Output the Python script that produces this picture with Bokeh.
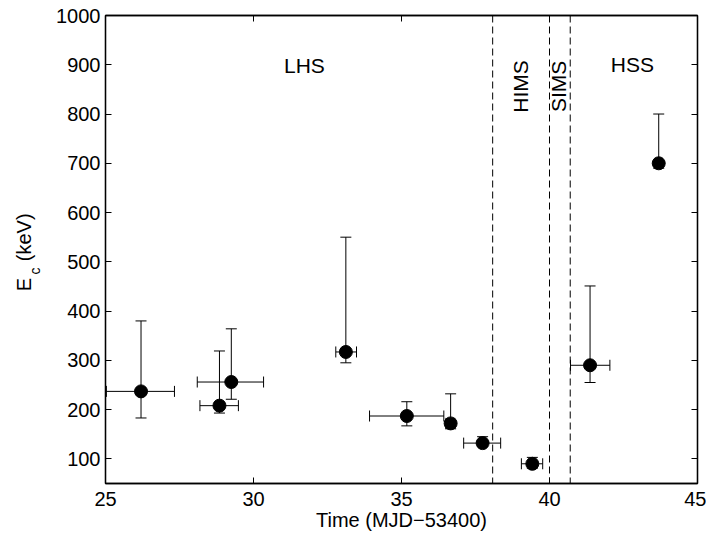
import numpy as np
from bokeh.plotting import figure
from bokeh.models import (ColumnDataSource, Whisker, TeeHead, Span, Label,
                          LinearAxis, FixedTicker, Range1d)
from bokeh.embed import file_html
from bokeh.resources import INLINE

# ---- data ----
t      = [26.2, 28.85, 29.25, 33.12, 35.18, 36.66, 37.74, 39.42, 41.37, 43.69]
ec     = [237, 208, 256, 317, 187, 172, 132, 90, 290, 700]
t_lo   = [25.03, 28.19, 28.10, 32.78, 33.92, 36.50, 37.10, 39.05, 40.71, 43.57]
t_hi   = [27.33, 29.49, 30.34, 33.48, 36.43, 36.80, 38.35, 39.77, 42.04, 43.81]
ec_lo  = [183, 193, 221, 295, 167, 161, 125, 81, 255, 690]
ec_hi  = [380, 319, 364, 550, 216, 232, 145, 103, 451, 800]
state_bounds = [38.08, 40.0, 40.7]
state_names  = ["LHS", "HIMS", "SIMS", "HSS"]
state_x      = [31.72, 39.02, 40.32, 42.8]
state_y      = [899, 856, 856, 900]
state_angle  = [0, np.pi / 2, np.pi / 2, 0]
x_ticks = [25, 30, 35, 40, 45]
y_ticks = [100, 200, 300, 400, 500, 600, 700, 800, 900, 1000]
x_title = "Time (MJD\u221253400)"
NB = "\u00a0"
y_title_main = "E" + NB * 3 + "(keV)" + NB
y_title_sub = "c" + NB * 11

FONT = "Liberation Sans"
FS = "20px"
FS_LAB = "20px"
FS_REG = "21px"

W, H = 706, 537
L, R, T, B = 105, 9, 15, 54
X0, X1, Y0, Y1 = 25, 45, 50, 1000

p = figure(width=W, height=H, output_backend="svg", toolbar_location=None,
           x_range=Range1d(X0, X1), y_range=Range1d(Y0, Y1),
           min_border_left=L, min_border_right=R, min_border_top=T,
           min_border_bottom=B, x_axis_location=None, y_axis_location=None)
p.grid.visible = False
p.outline_line_color = "black"
p.outline_line_width = 1.3
p.background_fill_color = "white"
p.border_fill_color = "white"

def mk_axis(loc, ticks, labels=True):
    ax = LinearAxis(ticker=FixedTicker(ticks=ticks))
    ax.major_tick_in = 6
    ax.major_tick_out = 0
    ax.minor_tick_in = 0
    ax.minor_tick_out = 0
    ax.axis_line_color = "black"
    ax.axis_line_width = 1.3
    ax.major_tick_line_color = "black"
    ax.major_tick_line_width = 1
    ax.major_label_text_font = FONT
    ax.major_label_text_font_size = FS
    ax.major_label_text_color = "black"
    ax.axis_label_text_font = FONT
    ax.axis_label_text_font_size = FS_LAB
    ax.axis_label_text_font_style = "normal"
    ax.axis_label_text_color = "black"
    if not labels:
        ax.major_label_text_font_size = "0px"
        ax.major_label_text_alpha = 0
    p.add_layout(ax, loc)
    return ax

bx = mk_axis("below", x_ticks)
bx.major_label_standoff = 8
bx.axis_label = x_title
bx.axis_label_standoff = 0

ly = mk_axis("left", y_ticks)
ly.major_label_standoff = 5
ly.axis_label = y_title_sub
ly.axis_label_text_font_size = "14px"
ly.axis_label_standoff = 10

# outer (label-only) left axis carrying "E  (keV)"
oy = LinearAxis(ticker=FixedTicker(ticks=[]))
oy.axis_line_alpha = 0
oy.major_tick_in = 0
oy.major_tick_out = 0
oy.minor_tick_in = 0
oy.minor_tick_out = 0
oy.major_label_text_font_size = "0px"
oy.axis_label = y_title_main
oy.axis_label_text_font = FONT
oy.axis_label_text_font_size = FS_LAB
oy.axis_label_text_font_style = "normal"
oy.axis_label_text_color = "black"
oy.axis_label_standoff = -10
p.add_layout(oy, "left")

mk_axis("above", x_ticks, labels=False)
mk_axis("right", y_ticks, labels=False)

# state boundaries
for xb in state_bounds:
    p.add_layout(Span(location=xb, dimension="height", line_color="black",
                      line_width=1, line_dash="7 4"))

# error bars
src = ColumnDataSource(dict(t=t, ec=ec, t_lo=t_lo, t_hi=t_hi,
                            ec_lo=ec_lo, ec_hi=ec_hi))
wy = Whisker(source=src, base="t", lower="ec_lo", upper="ec_hi",
             dimension="height", line_color="black", line_width=1,
             lower_head=TeeHead(size=11, line_color="black", line_width=1),
             upper_head=TeeHead(size=11, line_color="black", line_width=1))
wx = Whisker(source=src, base="ec", lower="t_lo", upper="t_hi",
             dimension="width", line_color="black", line_width=1,
             lower_head=TeeHead(size=11, line_color="black", line_width=1),
             upper_head=TeeHead(size=11, line_color="black", line_width=1))
p.add_layout(wy)
p.add_layout(wx)

p.scatter("t", "ec", source=src, size=13, marker="circle",
          fill_color="black", line_color="black")

# state labels
for name, sx, sy, ang in zip(state_names, state_x, state_y, state_angle):
    p.add_layout(Label(x=sx, y=sy, text=name, angle=ang,
                       text_align="center", text_baseline="middle",
                       text_font=FONT, text_font_size=FS_REG,
                       text_color="black"))

open("out.html", "w").write(file_html(p, INLINE))
